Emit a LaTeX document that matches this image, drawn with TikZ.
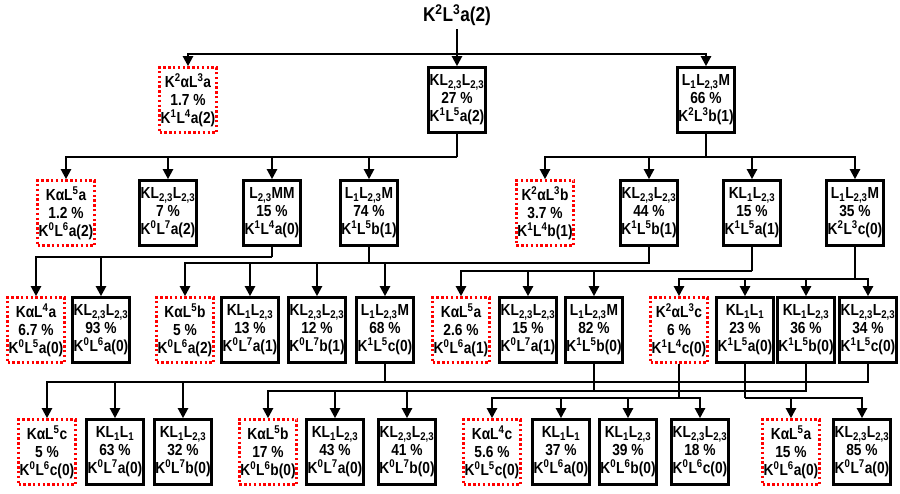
\documentclass[tikz,border=0pt]{standalone}
\usepackage{fontspec}
\setmainfont{Liberation Sans}[FakeStretch=0.86]
\usepackage{tikz}
\usetikzlibrary{arrows.meta}
\newcommand{\Lsub}[1]{L\textsubscript{#1}}
\newcommand{\sps}[1]{\textsuperscript{#1}}
\begin{document}
\begin{tikzpicture}[x=1pt,y=-1pt,font=\bfseries\fontsize{16}{18}\selectfont,box/.style={draw,line width=2.6pt,align=center,minimum width=57pt,minimum height=65pt,inner sep=1pt},dbox/.style={box,draw=red,dash pattern=on 2.4pt off 2.4pt},ln/.style={line width=2.2pt},arr/.style={ln,-{Triangle[length=10pt,width=10pt]}}]
\useasboundingbox (0,0) rectangle (900,493);
\node[font=\bfseries\fontsize{20}{24}\selectfont](top) at (457,15){K\sps{2}L\sps{3}a(2)};
% first generation
\node[dbox](r1a) at (188,100){K\sps{2}αL\sps{3}a\\1.7 \%\\K\sps{1}L\sps{4}a(2)};
\node[box](r1b) at (457,100){K\Lsub{2,3}\Lsub{2,3}\\27 \%\\K\sps{1}L\sps{5}a(2)};
\node[box](r1c) at (706,100){\Lsub{1}\Lsub{2,3}M\\66 \%\\K\sps{2}L\sps{3}b(1)};
% second generation
\node[dbox](r2a) at (66,213){KαL\sps{5}a\\1.2 \%\\K\sps{0}L\sps{6}a(2)};
\node[box](r2b) at (168,213){K\Lsub{2,3}\Lsub{2,3}\\7 \%\\K\sps{0}L\sps{7}a(2)};
\node[box](r2c) at (272,213){\Lsub{2,3}MM\\15 \%\\K\sps{1}L\sps{4}a(0)};
\node[box](r2d) at (369,213){\Lsub{1}\Lsub{2,3}M\\74 \%\\K\sps{1}L\sps{5}b(1)};
\node[dbox](r2e) at (545,213){K\sps{2}αL\sps{3}b\\3.7 \%\\K\sps{1}L\sps{4}b(1)};
\node[box](r2f) at (649,213){K\Lsub{2,3}\Lsub{2,3}\\44 \%\\K\sps{1}L\sps{5}b(1)};
\node[box](r2g) at (752,213){K\Lsub{1}\Lsub{2,3}\\15 \%\\K\sps{1}L\sps{5}a(1)};
\node[box](r2h) at (855,213){\Lsub{1}\Lsub{2,3}M\\35 \%\\K\sps{2}L\sps{3}c(0)};
% third generation
\node[dbox](r3a) at (36,330){KαL\sps{4}a\\6.7 \%\\K\sps{0}L\sps{5}a(0)};
\node[box](r3b) at (101,330){K\Lsub{2,3}\Lsub{2,3}\\93 \%\\K\sps{0}L\sps{6}a(0)};
\node[dbox](r3c) at (185,330){KαL\sps{5}b\\5 \%\\K\sps{0}L\sps{6}a(2)};
\node[box](r3d) at (250,330){K\Lsub{1}\Lsub{2,3}\\13 \%\\K\sps{0}L\sps{7}a(1)};
\node[box](r3e) at (317,330){K\Lsub{2,3}\Lsub{2,3}\\12 \%\\K\sps{0}L\sps{7}b(1)};
\node[box](r3f) at (385,330){\Lsub{1}\Lsub{2,3}M\\68 \%\\K\sps{1}L\sps{5}c(0)};
\node[dbox](r3g) at (461,330){KαL\sps{5}a\\2.6 \%\\K\sps{0}L\sps{6}a(1)};
\node[box](r3h) at (528,330){K\Lsub{2,3}\Lsub{2,3}\\15 \%\\K\sps{0}L\sps{7}a(1)};
\node[box](r3i) at (594,330){\Lsub{1}\Lsub{2,3}M\\82 \%\\K\sps{1}L\sps{5}b(0)};
\node[dbox](r3j) at (679,330){K\sps{2}αL\sps{3}c\\6 \%\\K\sps{1}L\sps{4}c(0)};
\node[box](r3k) at (745,330){K\Lsub{1}\Lsub{1}\\23 \%\\K\sps{1}L\sps{5}a(0)};
\node[box](r3l) at (806,330){K\Lsub{1}\Lsub{2,3}\\36 \%\\K\sps{1}L\sps{5}b(0)};
\node[box](r3m) at (868,330){K\Lsub{2,3}\Lsub{2,3}\\34 \%\\K\sps{1}L\sps{5}c(0)};
% fourth generation
\node[dbox](r4a) at (47,452){KαL\sps{5}c\\5 \%\\K\sps{0}L\sps{6}c(0)};
\node[box](r4b) at (115,452){K\Lsub{1}\Lsub{1}\\63 \%\\K\sps{0}L\sps{7}a(0)};
\node[box](r4c) at (183,452){K\Lsub{1}\Lsub{2,3}\\32 \%\\K\sps{0}L\sps{7}b(0)};
\node[dbox](r4d) at (268,452){KαL\sps{5}b\\17 \%\\K\sps{0}L\sps{6}b(0)};
\node[box](r4e) at (335,452){K\Lsub{1}\Lsub{2,3}\\43 \%\\K\sps{0}L\sps{7}a(0)};
\node[box](r4f) at (407,452){K\Lsub{2,3}\Lsub{2,3}\\41 \%\\K\sps{0}L\sps{7}b(0)};
\node[dbox](r4g) at (492,452){KαL\sps{4}c\\5.6 \%\\K\sps{0}L\sps{5}c(0)};
\node[box](r4h) at (561,452){K\Lsub{1}\Lsub{1}\\37 \%\\K\sps{0}L\sps{6}a(0)};
\node[box](r4i) at (628,452){K\Lsub{1}\Lsub{2,3}\\39 \%\\K\sps{0}L\sps{6}b(0)};
\node[box](r4j) at (700,452){K\Lsub{2,3}\Lsub{2,3}\\18 \%\\K\sps{0}L\sps{6}c(0)};
\node[dbox](r4k) at (791,452){KαL\sps{5}a\\15 \%\\K\sps{0}L\sps{6}a(0)};
\node[box](r4l) at (862,452){K\Lsub{2,3}\Lsub{2,3}\\85 \%\\K\sps{0}L\sps{7}a(0)};
% branch points
\coordinate (j0) at (457,54);\coordinate (j1) at (457,157);\coordinate (j2) at (706,157);
\coordinate (j3) at (272,257);\coordinate (j4) at (369,263);\coordinate (j5) at (752,271);\coordinate (j6) at (855,279);
\coordinate (j7) at (385,382);\coordinate (j8) at (594,391);\coordinate (j9) at (679,398);\coordinate (j10) at (745,398);
% connectors
\draw[ln](top)--(j0);\draw[arr](j0)-|(r1a);\draw[arr](j0)--(r1b);\draw[arr](j0)-|(r1c);
\draw[ln](r1b)--(j1);\foreach \n in {r2a,r2b,r2c,r2d}\draw[arr](j1)-|(\n);
\draw[ln](r1c)--(j2);\foreach \n in {r2e,r2f,r2g,r2h}\draw[arr](j2)-|(\n);
\draw[ln](r2c)--(j3);\foreach \n in {r3a,r3b}\draw[arr](j3)-|(\n);
\draw[ln](r2d)--(j4);\draw[ln](r2f)|-(j4);\foreach \n in {r3c,r3d,r3e,r3f}\draw[arr](j4)-|(\n);
\draw[ln](r2g)--(j5);\foreach \n in {r3g,r3h,r3i}\draw[arr](j5)-|(\n);
\draw[ln](r2h)--(j6);\foreach \n in {r3j,r3k,r3l,r3m}\draw[arr](j6)-|(\n);
\draw[ln](r3f)--(j7);\draw[ln](r3m)|-(j7);\foreach \n in {r4a,r4b,r4c}\draw[arr](j7)-|(\n);
\draw[ln](r3i)--(j8);\draw[ln](r3l)|-(j8);\foreach \n in {r4d,r4e,r4f}\draw[arr](j8)-|(\n);
\draw[ln](r3j)--(j9);\foreach \n in {r4g,r4h,r4i,r4j}\draw[arr](j9)-|(\n);
\draw[ln](r3k)--(j10);\foreach \n in {r4k,r4l}\draw[arr](j10)-|(\n);
\end{tikzpicture}
\end{document}
